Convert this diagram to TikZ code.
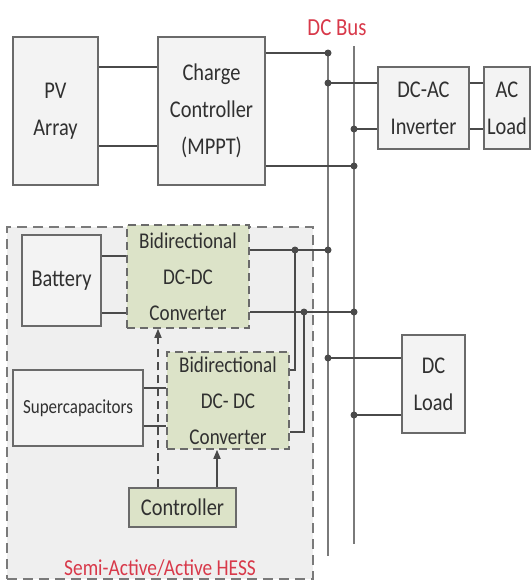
\documentclass[tikz,border=0pt]{standalone}
\usepackage{fontspec}
\setmainfont[FakeStretch=0.85]{Carlito}
\usetikzlibrary{arrows.meta}
\definecolor{txt}{HTML}{303030}
\definecolor{bord}{HTML}{6A6A6A}
\definecolor{wire}{HTML}{4A4A4A}
\definecolor{busc}{HTML}{7A7A7A}
\definecolor{boxfill}{HTML}{F3F3F3}
\definecolor{hessfill}{HTML}{EFEFEF}
\definecolor{grn}{HTML}{DCE3C8}
\definecolor{redt}{HTML}{D8394A}
\tikzset{
  blk/.style={draw=bord, line width=1.5pt, fill=boxfill, inner sep=0pt, align=center, text=txt,
    font=\fontsize{24}{37}\selectfont},
  conv/.style={blk, fill=grn, dashed, dash pattern=on 8pt off 5pt, font=\fontsize{22.5}{36}\selectfont},
  ctrlbox/.style={blk, fill=grn},
  wireline/.style={draw=wire, line width=1.8pt},
  busline/.style={draw=busc, line width=2pt},
  dot/.style={circle, fill=wire, inner sep=0pt, minimum size=7pt},
  ctl/.style={draw=wire, line width=1.5pt, -{Triangle[length=9pt,width=7pt]}},
  redlabel/.style={text=redt, inner sep=0pt}
}
\begin{document}
\begin{tikzpicture}[x=1pt,y=-1pt]
\useasboundingbox (0,0) rectangle (532,581);
% HESS area
\node[draw=busc, line width=1.5pt, fill=hessfill, dash pattern=on 10pt off 6pt,
  minimum width=306pt, minimum height=352pt, inner sep=0pt] (hess) at (160,403) {};
% labels
\node[redlabel, font=\fontsize{24.5}{28}\selectfont] (dcbus) at (337,28) {DC Bus};
\node[redlabel, font=\fontsize{22.8}{26}\selectfont] (hesslbl) at (160,568) {Semi-Active/Active HESS};
% bus coordinates
\coordinate (Ltop) at (328,50);
\coordinate (Lbot) at (328,556);
\coordinate (Rtop) at (354,46);
\coordinate (Rbot) at (354,544);
\coordinate (L1) at (328,53);
\coordinate (L2) at (328,83);
\coordinate (R1) at (354,129);
\coordinate (R2) at (354,166);
\coordinate (L3) at (328,250);
\coordinate (J1) at (295,250);
\coordinate (R3) at (354,312);
\coordinate (J2) at (304,312);
\coordinate (L4) at (328,358);
\coordinate (R4) at (354,415);
\draw[busline] (Ltop) -- (Lbot);
\draw[busline] (Rtop) -- (Rbot);
% blocks
\node[blk, minimum width=85pt, minimum height=148pt] (pv) at (55.5,111) {PV\\Array};
\node[blk, minimum width=107pt, minimum height=148pt] (cc) at (211.5,111) {Charge\\Controller\\(MPPT)};
\node[blk, minimum width=91pt, minimum height=82pt] (inv) at (423.5,108) {DC-AC\\Inverter};
\node[blk, minimum width=46pt, minimum height=82pt] (ac) at (507,108) {AC\\Load};
\node[blk, minimum width=79pt, minimum height=91pt] (bat) at (61.5,280.5) {Battery};
\node[conv, minimum width=122pt, minimum height=103pt] (conv1) at (188,276.5) {Bidirectional\\DC-DC\\Converter};
\node[conv, minimum width=122pt, minimum height=97pt] (conv2) at (228,400.5) {Bidirectional\\DC- DC\\Converter};
\node[blk, minimum width=130pt, minimum height=76pt, font=\fontsize{20}{24}\selectfont] (sc) at (78,408) {Supercapacitors};
\node[ctrlbox, minimum width=107pt, minimum height=39pt] (ctrl) at (182.5,507.5) {Controller};
\node[blk, minimum width=63pt, minimum height=98pt] (dcl) at (433.5,384) {DC\\Load};
% connector coordinates on blocks
\coordinate (pa) at ([yshift=44pt]cc.west);
\coordinate (pb) at ([yshift=-35pt]cc.west);
\coordinate (ba) at ([yshift=20.5pt]conv1.west);
\coordinate (bb) at ([yshift=-36.5pt]conv1.west);
\coordinate (sa) at ([yshift=12.5pt]conv2.west);
\coordinate (sb) at ([yshift=-25.5pt]conv2.west);
\coordinate (ca) at ([yshift=30.5pt]conv2.east);
\coordinate (cb) at ([yshift=-31.5pt]conv2.east);
\coordinate (k1) at ([xshift=-24.5pt]ctrl.north);
\coordinate (k2) at ([xshift=34.5pt]ctrl.north);
% PV - CC
\draw[wireline] (pv.east |- pa) -- (pa);
\draw[wireline] (pv.east |- pb) -- (pb);
% CC - bus
\draw[wireline] (cc.east |- L1) -- (L1);
\draw[wireline] (cc.east |- R2) -- (R2);
% bus - inverter - AC load
\draw[wireline] (L2) -- (inv.west |- L2);
\draw[wireline] (R1) -- (inv.west |- R1);
\draw[wireline] (inv.east |- L2) -- (ac.west |- L2);
\draw[wireline] (inv.east |- R1) -- (ac.west |- R1);
% battery - conv1
\draw[wireline] (bat.east |- ba) -- (ba);
\draw[wireline] (bat.east |- bb) -- (bb);
% supercaps - conv2
\draw[wireline] (sc.east |- sa) -- (sa);
\draw[wireline] (sc.east |- sb) -- (sb);
% conv1 - bus
\draw[wireline] (conv1.east |- L3) -- (J1) -- (L3);
\draw[wireline] (conv1.east |- R3) -- (J2) -- (R3);
% conv2 - junctions
\draw[wireline] (ca) -| (J1);
\draw[wireline] (cb) -| (J2);
% bus - DC load
\draw[wireline] (L4) -- (dcl.west |- L4);
\draw[wireline] (R4) -- (dcl.west |- R4);
% controller arrows
\draw[ctl, dash pattern=on 8pt off 5pt] (k1) -- (k1 |- conv1.south);
\draw[ctl] (k2) -- (k2 |- conv2.south);
% dots
\foreach \p in {L1,L2,R1,R2,L3,J1,R3,J2,L4,R4} \node[dot] at (\p) {};
\end{tikzpicture}
\end{document}
